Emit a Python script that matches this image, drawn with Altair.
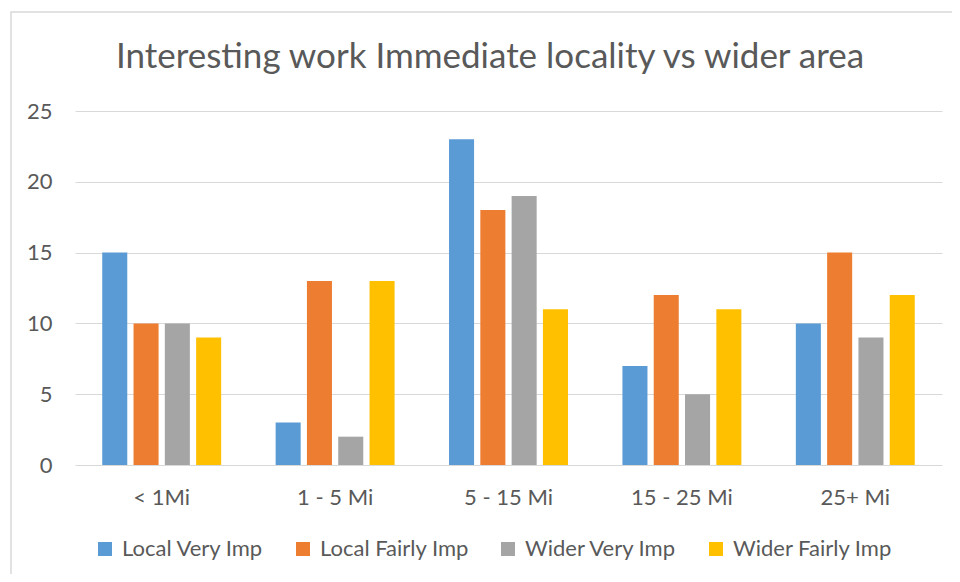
import altair as alt
import pandas as pd

categories = ["< 1Mi", "1 - 5 Mi", "5 - 15 Mi", "15 - 25 Mi", "25+ Mi"]
series = ["Local Very Imp", "Local Fairly Imp", "Wider Very Imp", "Wider Fairly Imp"]
local_very = [15, 3, 23, 7, 10]
local_fairly = [10, 13, 18, 12, 15]
wider_very = [10, 2, 19, 5, 9]
wider_fairly = [9, 13, 11, 11, 12]
colors = ["#5B9BD5", "#ED7D31", "#A5A5A5", "#FFC000"]
y_ticks = [0, 5, 10, 15, 20, 25]
title_text = "Interesting work Immediate locality vs wider area"

rows = []
for s, vals in zip(series, [local_very, local_fairly, wider_very, wider_fairly]):
    for c, v in zip(categories, vals):
        rows.append({"cat": c, "series": s, "value": v})
df = pd.DataFrame(rows)

FONT = "Lato"
TXT = "#595959"
GRID = "#D9D9D9"

bars = alt.Chart(df).mark_bar().encode(
    x=alt.X("cat:N", sort=categories, title=None,
            scale=alt.Scale(paddingInner=0, paddingOuter=0),
            axis=alt.Axis(labelAngle=0, ticks=False, domain=False, labelFontSize=22,
                          labelFont=FONT, labelColor=TXT, labelPadding=22)),
    xOffset=alt.XOffset("series:N", sort=series,
                        scale=alt.Scale(paddingInner=0.2, paddingOuter=0.87)),
    y=alt.Y("value:Q", title=None,
            scale=alt.Scale(domain=[0, 25], nice=False),
            axis=alt.Axis(values=y_ticks, ticks=False, domain=False, gridColor=GRID,
                          labelFontSize=22, labelFont=FONT, labelColor=TXT, labelPadding=23)),
    color=alt.Color("series:N", sort=series,
                    scale=alt.Scale(domain=series, range=colors),
                    legend=alt.Legend(title=None, orient="none", legendX=19, legendY=427,
                                      direction="horizontal", symbolType="square",
                                      symbolSize=196, symbolStrokeWidth=0, padding=0,
                                      labelFontSize=22, labelFont=FONT, labelColor=TXT,
                                      labelOffset=6, columnPadding=28, labelLimit=400)),
)

border = alt.Chart(alt.Data(values=[{}])).mark_rect(
    fill=None, stroke=GRID, strokeWidth=1.5
).encode(
    x=alt.value(-64), x2=alt.value(1000), y=alt.value(-99), y2=alt.value(700)
)

title = alt.Chart(alt.Data(values=[{"t": title_text}])).mark_text(
    font=FONT, fontSize=35, color=TXT, align="center", baseline="alphabetic"
).encode(
    text="t:N", x=alt.value(415), y=alt.value(-43)
)

chart = alt.layer(border, bars, title).properties(
    width=867, height=354,
    autosize=alt.AutoSizeParams(type="none"),
    padding={"left": 67, "top": 103, "right": 10, "bottom": 109},
).configure(background="white").configure_view(strokeWidth=0)

chart.save("out.html", embed_options={"renderer": "svg", "actions": False})
